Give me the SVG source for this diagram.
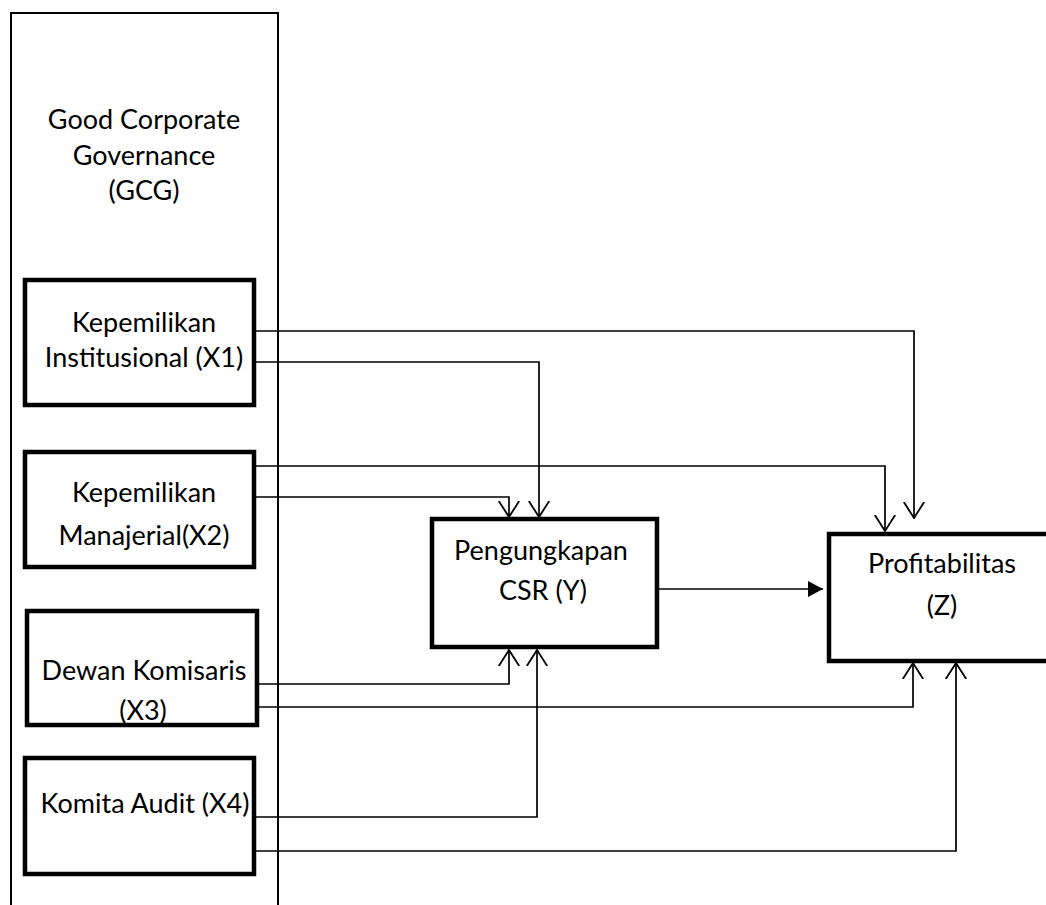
<svg xmlns="http://www.w3.org/2000/svg" width="1046" height="905" viewBox="0 0 1046 905">
<defs>
<style>
.frame{fill:none;stroke:#000;stroke-width:2}
.box{fill:#fff;stroke:#000;stroke-width:4.5}
.lbl{font-family:Lato,"Liberation Sans",sans-serif;font-size:27px;fill:#000;text-anchor:middle}
.con{fill:none;stroke:#000;stroke-width:1.7}
.open{marker-end:url(#open)}
</style>
<marker id="open" markerUnits="userSpaceOnUse" viewBox="0 0 17 22" refX="16" refY="11" markerWidth="17" markerHeight="22" orient="auto">
<path d="M0,0.8 L16,11 L0,21.2" fill="none" stroke="#000" stroke-width="1.8"/>
</marker>
<marker id="solid" markerUnits="userSpaceOnUse" viewBox="0 0 15 16" refX="15" refY="8" markerWidth="15" markerHeight="16" orient="auto">
<path d="M0,0 L15,8 L0,16 Z" fill="#000"/>
</marker>
</defs>
<rect width="1046" height="905" fill="#fff"/>
<g id="gcg">
<path class="frame" d="M11,906 V13 H278 V906"/>
<text class="lbl" x="144" y="129">Good Corporate</text>
<text class="lbl" x="144" y="165">Governance</text>
<text class="lbl" x="144" y="200">(GCG)</text>
</g>
<g id="connectors">
<path class="con open" d="M256,331 H914 V518"/>
<path class="con open" d="M256,362 H539 V517"/>
<path class="con open" d="M256,466 H885 V531"/>
<path class="con open" d="M256,497 H509 V517"/>
<path class="con open" d="M259,684 H509 V650"/>
<path class="con open" d="M259,707 H913 V663"/>
<path class="con open" d="M256,817 H537 V650"/>
<path class="con open" d="M256,851 H956 V663"/>
<path class="con" d="M659,589 H823" marker-end="url(#solid)"/>
</g>
<g id="x1">
<rect class="box" x="25" y="280" width="229" height="125"/>
<text class="lbl" x="144" y="332">Kepemilikan</text>
<text class="lbl" x="144" y="367">Institusional (X1)</text>
</g>
<g id="x2">
<rect class="box" x="25" y="452" width="229" height="115"/>
<text class="lbl" x="144" y="502">Kepemilikan</text>
<text class="lbl" x="144" y="545">Manajerial(X2)</text>
</g>
<g id="x3">
<rect class="box" x="27" y="611" width="230" height="114"/>
<text class="lbl" x="144" y="680">Dewan Komisaris</text>
<text class="lbl" x="143" y="720">(X3)</text>
</g>
<g id="x4">
<rect class="box" x="25" y="758" width="229" height="116"/>
<text class="lbl" x="145" y="813">Komita Audit (X4)</text>
</g>
<g id="csr">
<rect class="box" x="432" y="519" width="225" height="128"/>
<text class="lbl" x="541" y="560">Pengungkapan</text>
<text class="lbl" x="543" y="600">CSR (Y)</text>
</g>
<g id="z">
<rect class="box" x="829" y="534" width="240" height="127"/>
<text class="lbl" x="942" y="573">Profitabilitas</text>
<text class="lbl" x="942" y="615">(Z)</text>
</g>
</svg>
